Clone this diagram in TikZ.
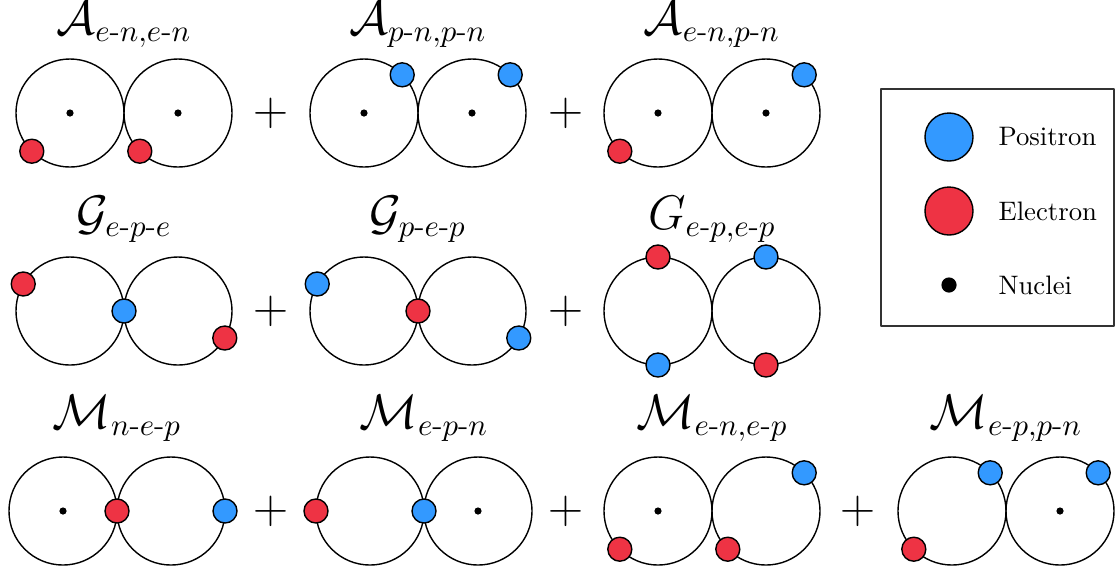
\documentclass[tikz,border=0pt]{standalone}
\usepackage{amsmath,amssymb}
\usepackage{xcolor}
\usepackage{tikz}
\usetikzlibrary{positioning}
\definecolor{pfPositron}{HTML}{3399FF}
\definecolor{pfElectron}{HTML}{EE3344}
\definecolor{pfFrame}{HTML}{333333}
\tikzset{
  pf diagram/.style={line cap=round, line join=round},
  pf orbit/.style={circle, draw=black, line width=0.5pt,
    minimum size=1.35cm, inner sep=0pt, outer sep=0pt},
  pf particle/.style={circle, draw=black, line width=0.5pt,
    minimum size=0.3cm, inner sep=0pt},
  pf positron/.style={pf particle, fill=pfPositron},
  pf electron/.style={pf particle, fill=pfElectron},
  pf nucleus/.style={circle, fill=black, minimum size=0.09cm, inner sep=0pt},
  pf term/.style={font=\fontsize{16}{19}\selectfont, anchor=base, inner sep=0pt},
  pf plus/.style={font=\LARGE},
  pf key/.style={pf particle, minimum size=0.6cm},
  pf key text/.style={font=\fontsize{9.5}{11}\selectfont, anchor=west, inner sep=0pt}
}

\begin{document}
\begin{tikzpicture}[pf diagram,x=0.0125cm,y=-0.0125cm]
\useasboundingbox (0,0) rectangle (1115,571);
% row A
\foreach \n/\x in {1/70,2/364,3/658}{
  \node[pf orbit] (A\n L) at (\x,113) {};
  \node[pf orbit] (A\n R) at (\x+108,113) {};
  \node[pf nucleus] (nA\n L) at (A\n L) {};
  \node[pf nucleus] (nA\n R) at (A\n R) {};
}
\node[pf electron] (eA1a) at (A1L.225) {};
\node[pf electron] (eA1b) at (A1R.225) {};
\node[pf positron] (pA2a) at (A2L.45) {};
\node[pf positron] (pA2b) at (A2R.45) {};
\node[pf electron] (eA3a) at (A3L.225) {};
\node[pf positron] (pA3b) at (A3R.45) {};
\node[pf term] (tA1) at (124,34) {$\mathcal{A}_{e\text{-}n,e\text{-}n}$};
\node[pf term] (tA2) at (418,34) {$\mathcal{A}_{p\text{-}n,p\text{-}n}$};
\node[pf term] (tA3) at (712,34) {$\mathcal{A}_{e\text{-}n,p\text{-}n}$};
\node[pf plus] (plA1) at (271,113) {$+$};
\node[pf plus] (plA2) at (566,113) {$+$};
% row G
\foreach \n/\x in {1/70,2/364,3/658}{
  \node[pf orbit] (G\n L) at (\x,311) {};
  \node[pf orbit] (G\n R) at (\x+108,311) {};
}
\node[pf electron] (eG1a) at (G1L.150) {};
\node[pf positron] (pG1b) at (G1L.east) {};
\node[pf electron] (eG1c) at (G1R.-30) {};
\node[pf positron] (pG2a) at (G2L.150) {};
\node[pf electron] (eG2b) at (G2L.east) {};
\node[pf positron] (pG2c) at (G2R.-30) {};
\node[pf electron] (eG3a) at (G3L.north) {};
\node[pf positron] (pG3b) at (G3L.south) {};
\node[pf positron] (pG3c) at (G3R.north) {};
\node[pf electron] (eG3d) at (G3R.south) {};
\node[pf term] (tG1) at (124,229) {$\mathcal{G}_{e\text{-}p\text{-}e}$};
\node[pf term] (tG2) at (418,229) {$\mathcal{G}_{p\text{-}e\text{-}p}$};
\node[pf term] (tG3) at (712,229) {$G_{e\text{-}p,e\text{-}p}$};
\node[pf plus] (plG1) at (271,311) {$+$};
\node[pf plus] (plG2) at (566,311) {$+$};
% row M
\foreach \n/\x in {1/63,2/370,3/658,4/952}{
  \node[pf orbit] (M\n L) at (\x,511) {};
  \node[pf orbit] (M\n R) at (\x+108,511) {};
}
\node[pf nucleus] (nM1) at (M1L) {};
\node[pf nucleus] (nM2) at (M2R) {};
\node[pf nucleus] (nM3) at (M3L) {};
\node[pf nucleus] (nM4) at (M4R) {};
\node[pf electron] (eM1a) at (M1L.east) {};
\node[pf positron] (pM1b) at (M1R.east) {};
\node[pf electron] (eM2a) at (M2L.west) {};
\node[pf positron] (pM2b) at (M2L.east) {};
\node[pf electron] (eM3a) at (M3L.225) {};
\node[pf electron] (eM3b) at (M3R.225) {};
\node[pf positron] (pM3c) at (M3R.45) {};
\node[pf electron] (eM4a) at (M4L.225) {};
\node[pf positron] (pM4b) at (M4L.45) {};
\node[pf positron] (pM4c) at (M4R.45) {};
\node[pf term] (tM1) at (117,428) {$\mathcal{M}_{n\text{-}e\text{-}p}$};
\node[pf term] (tM2) at (424,428) {$\mathcal{M}_{e\text{-}p\text{-}n}$};
\node[pf term] (tM3) at (712,428) {$\mathcal{M}_{e\text{-}n,e\text{-}p}$};
\node[pf term] (tM4) at (1006,428) {$\mathcal{M}_{e\text{-}p,p\text{-}n}$};
\node[pf plus] (plM1) at (271,511) {$+$};
\node[pf plus] (plM2) at (566,511) {$+$};
\node[pf plus] (plM3) at (858,511) {$+$};
% legend
\draw[draw=pfFrame, line width=0.6pt] (881,89) rectangle (1114,326);
\node[pf key, fill=pfPositron] (kPos) at (949,137) {};
\node[pf key, fill=pfElectron] (kEl) at (949,211) {};
\node[pf nucleus, minimum size=0.19cm] (kNuc) at (949,285) {};
\node[pf key text] at (998,137) {Positron};
\node[pf key text] at (998,211) {Electron};
\node[pf key text] at (998,285) {Nuclei};
\end{tikzpicture}
\end{document}
